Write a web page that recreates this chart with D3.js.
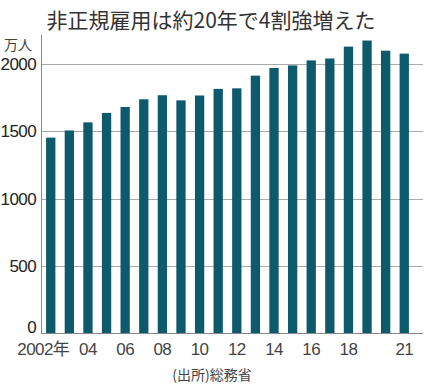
<!DOCTYPE html>
<meta charset="utf-8">
<style>
  body { margin: 0; background: #fff; }
  text { font-family: "Liberation Sans", "Noto Sans CJK JP", sans-serif; fill: #222; }
</style>
<body>
<script src="https://d3js.org/d3.v7.min.js"></script>
<script>
// 非正規雇用者数(万人)
var years = [2002, 2003, 2004, 2005, 2006, 2007, 2008, 2009, 2010, 2011,
             2012, 2013, 2014, 2015, 2016, 2017, 2018, 2019, 2020, 2021];
var workers = [1451, 1504, 1564, 1634, 1678, 1735, 1765, 1727, 1763, 1812,
               1816, 1910, 1967, 1986, 2023, 2037, 2125, 2170, 2095, 2073];
var yTicks = [0, 500, 1000, 1500, 2000];
var labelYears = [2002, 2004, 2006, 2008, 2010, 2012, 2014, 2016, 2018, 2021];

var width = 425, height = 386;

var svg = d3.select("body").append("svg")
    .attr("width", width)
    .attr("height", height);

var x = d3.scaleBand()
    .domain(years)
    .range([42, 413])
    .paddingInner(0.5)
    .paddingOuter(0.22);

var y = d3.scaleLinear()
    .domain([0, 2000])
    .range([333.5, 63.5]);

// title
svg.append("text")
    .attr("x", 211)
    .attr("y", 28)
    .attr("text-anchor", "middle")
    .style("font-size", "21px")
    .style("font-family", "'Noto Sans CJK JP', sans-serif")
    .style("fill", "#333")
    .text("非正規雇用は約20年で4割強増えた");

// grid lines
svg.append("g")
  .selectAll("line")
  .data(yTicks.filter(function(d) { return d > 0; }))
  .enter().append("line")
    .attr("x1", 42)
    .attr("x2", 423)
    .attr("y1", function(d) { return Math.round(y(d)) + 0.5; })
    .attr("y2", function(d) { return Math.round(y(d)) + 0.5; })
    .attr("stroke", "#aaa")
    .attr("stroke-width", 1);

// bars
svg.append("g")
  .selectAll("rect")
  .data(years)
  .enter().append("rect")
    .attr("x", function(d) { return x(d); })
    .attr("width", x.bandwidth())
    .attr("y", function(d, i) { return y(workers[i]); })
    .attr("height", function(d, i) { return y(0) - y(workers[i]); })
    .attr("fill", "#0d5a6c");

// y axis line + baseline
svg.append("line")
    .attr("x1", 41.5).attr("x2", 41.5)
    .attr("y1", 35).attr("y2", 334)
    .attr("stroke", "#888");
svg.append("line")
    .attr("x1", 41).attr("x2", 423)
    .attr("y1", 333.5).attr("y2", 333.5)
    .attr("stroke", "#888");

// y tick labels (0 sits on the baseline)
svg.append("g")
  .selectAll("text")
  .data(yTicks)
  .enter().append("text")
    .attr("x", 36)
    .attr("y", function(d) { return d === 0 ? y(d) - 0.5 : y(d) + 6; })
    .attr("text-anchor", "end")
    .style("font-size", "17px")
    .style("letter-spacing", "-0.6px")
    .text(function(d) { return d; });

svg.append("text")
    .attr("x", 4)
    .attr("y", 50)
    .style("font-size", "14px")
    .style("font-family", "'Noto Sans CJK JP', sans-serif")
    .style("fill", "#444")
    .text("万人");

// x labels
svg.append("g")
  .selectAll("text")
  .data(labelYears)
  .enter().append("text")
    .attr("x", function(d) { return x(d) + x.bandwidth() / 2 + (d === 2002 ? -7.5 : 0); })
    .attr("y", 355)
    .attr("text-anchor", "middle")
    .style("font-size", "17px")
    .style("letter-spacing", "-0.6px")
    .style("fill", "#444")
    .text(function(d) { return d === 2002 ? "2002年" : String(d).slice(2); });

// source
svg.append("text")
    .attr("x", 212)
    .attr("y", 380)
    .attr("text-anchor", "middle")
    .style("font-size", "14px")
    .style("font-family", "'Noto Sans CJK JP', sans-serif")
    .style("fill", "#444")
    .text("(出所)総務省");
</script>
</body>
</html>
